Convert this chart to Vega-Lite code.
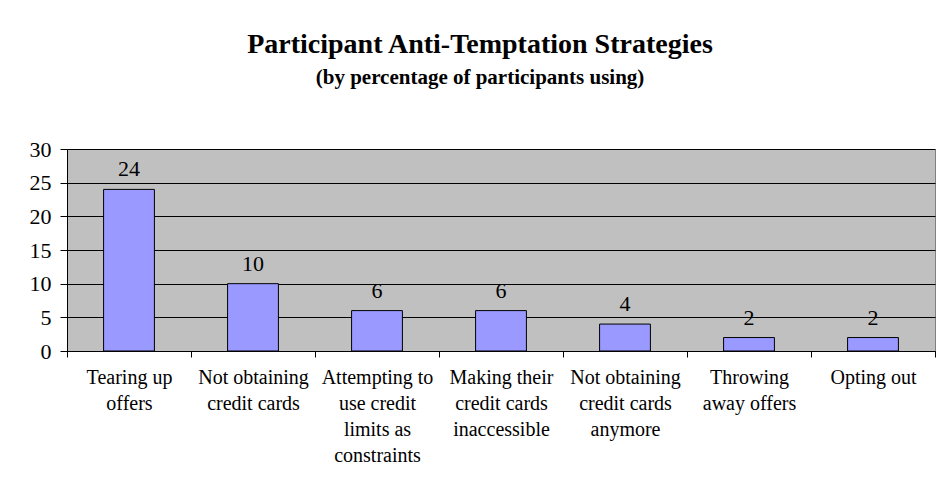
{
  "$schema": "https://vega.github.io/schema/vega-lite/v6.json",
  "width": 868,
  "height": 202,
  "autosize": {"type": "none"},
  "padding": {"left": 67, "top": 149, "right": 2, "bottom": 134},
  "background": "white",
  "title": {
    "text": "Participant Anti-Temptation Strategies",
    "subtitle": "(by percentage of participants using)",
    "anchor": "middle",
    "dx": -21,
    "offset": 50,
    "font": "Liberation Serif",
    "fontSize": 28,
    "fontWeight": "bold",
    "color": "black",
    "subtitleFont": "Liberation Serif",
    "subtitleFontSize": 21,
    "subtitleFontWeight": "bold",
    "subtitleColor": "black",
    "subtitlePadding": 8
  },
  "data": {
    "values": [
      {"strategy": "Tearing up|offers", "percent": 24},
      {"strategy": "Not obtaining|credit cards", "percent": 10},
      {"strategy": "Attempting to|use credit|limits as|constraints", "percent": 6},
      {"strategy": "Making their|credit cards|inaccessible", "percent": 6},
      {"strategy": "Not obtaining|credit cards|anymore", "percent": 4},
      {"strategy": "Throwing|away offers", "percent": 2},
      {"strategy": "Opting out", "percent": 2}
    ]
  },
  "encoding": {
    "x": {
      "field": "strategy",
      "type": "nominal",
      "sort": null,
      "scale": {"paddingInner": 0, "paddingOuter": 0},
      "axis": {
        "title": null,
        "labelExpr": "split(datum.label, '|')",
        "labelAngle": 0,
        "labelLimit": 0,
        "labelFont": "Liberation Serif",
        "labelFontSize": 20,
        "labelColor": "black",
        "labelLineHeight": 26,
        "labelPadding": 10,
        "labelBaseline": "top",
        "tickBand": "extent",
        "tickSize": 6,
        "tickColor": "black",
        "domainColor": "black",
        "grid": false
      }
    },
    "y": {
      "field": "percent",
      "type": "quantitative",
      "scale": {"domain": [0, 30], "nice": false},
      "axis": {
        "title": null,
        "values": [0, 5, 10, 15, 20, 25, 30],
        "labelFont": "Liberation Serif",
        "labelFontSize": 22,
        "labelColor": "black",
        "labelPadding": 9,
        "tickSize": 7,
        "tickColor": "black",
        "domainColor": "black",
        "grid": true,
        "gridColor": "black",
        "gridOpacity": 1
      }
    }
  },
  "layer": [
    {
      "mark": {"type": "bar", "width": {"band": 0.41}, "fill": "#9999FF", "stroke": "black", "strokeWidth": 1}
    },
    {
      "mark": {"type": "text", "font": "Liberation Serif", "fontSize": 22, "color": "black", "baseline": "alphabetic", "dy": -13},
      "encoding": {"text": {"field": "percent", "type": "quantitative"}}
    }
  ],
  "config": {
    "view": {"fill": "#C0C0C0", "stroke": "#808080", "strokeWidth": 1}
  }
}
